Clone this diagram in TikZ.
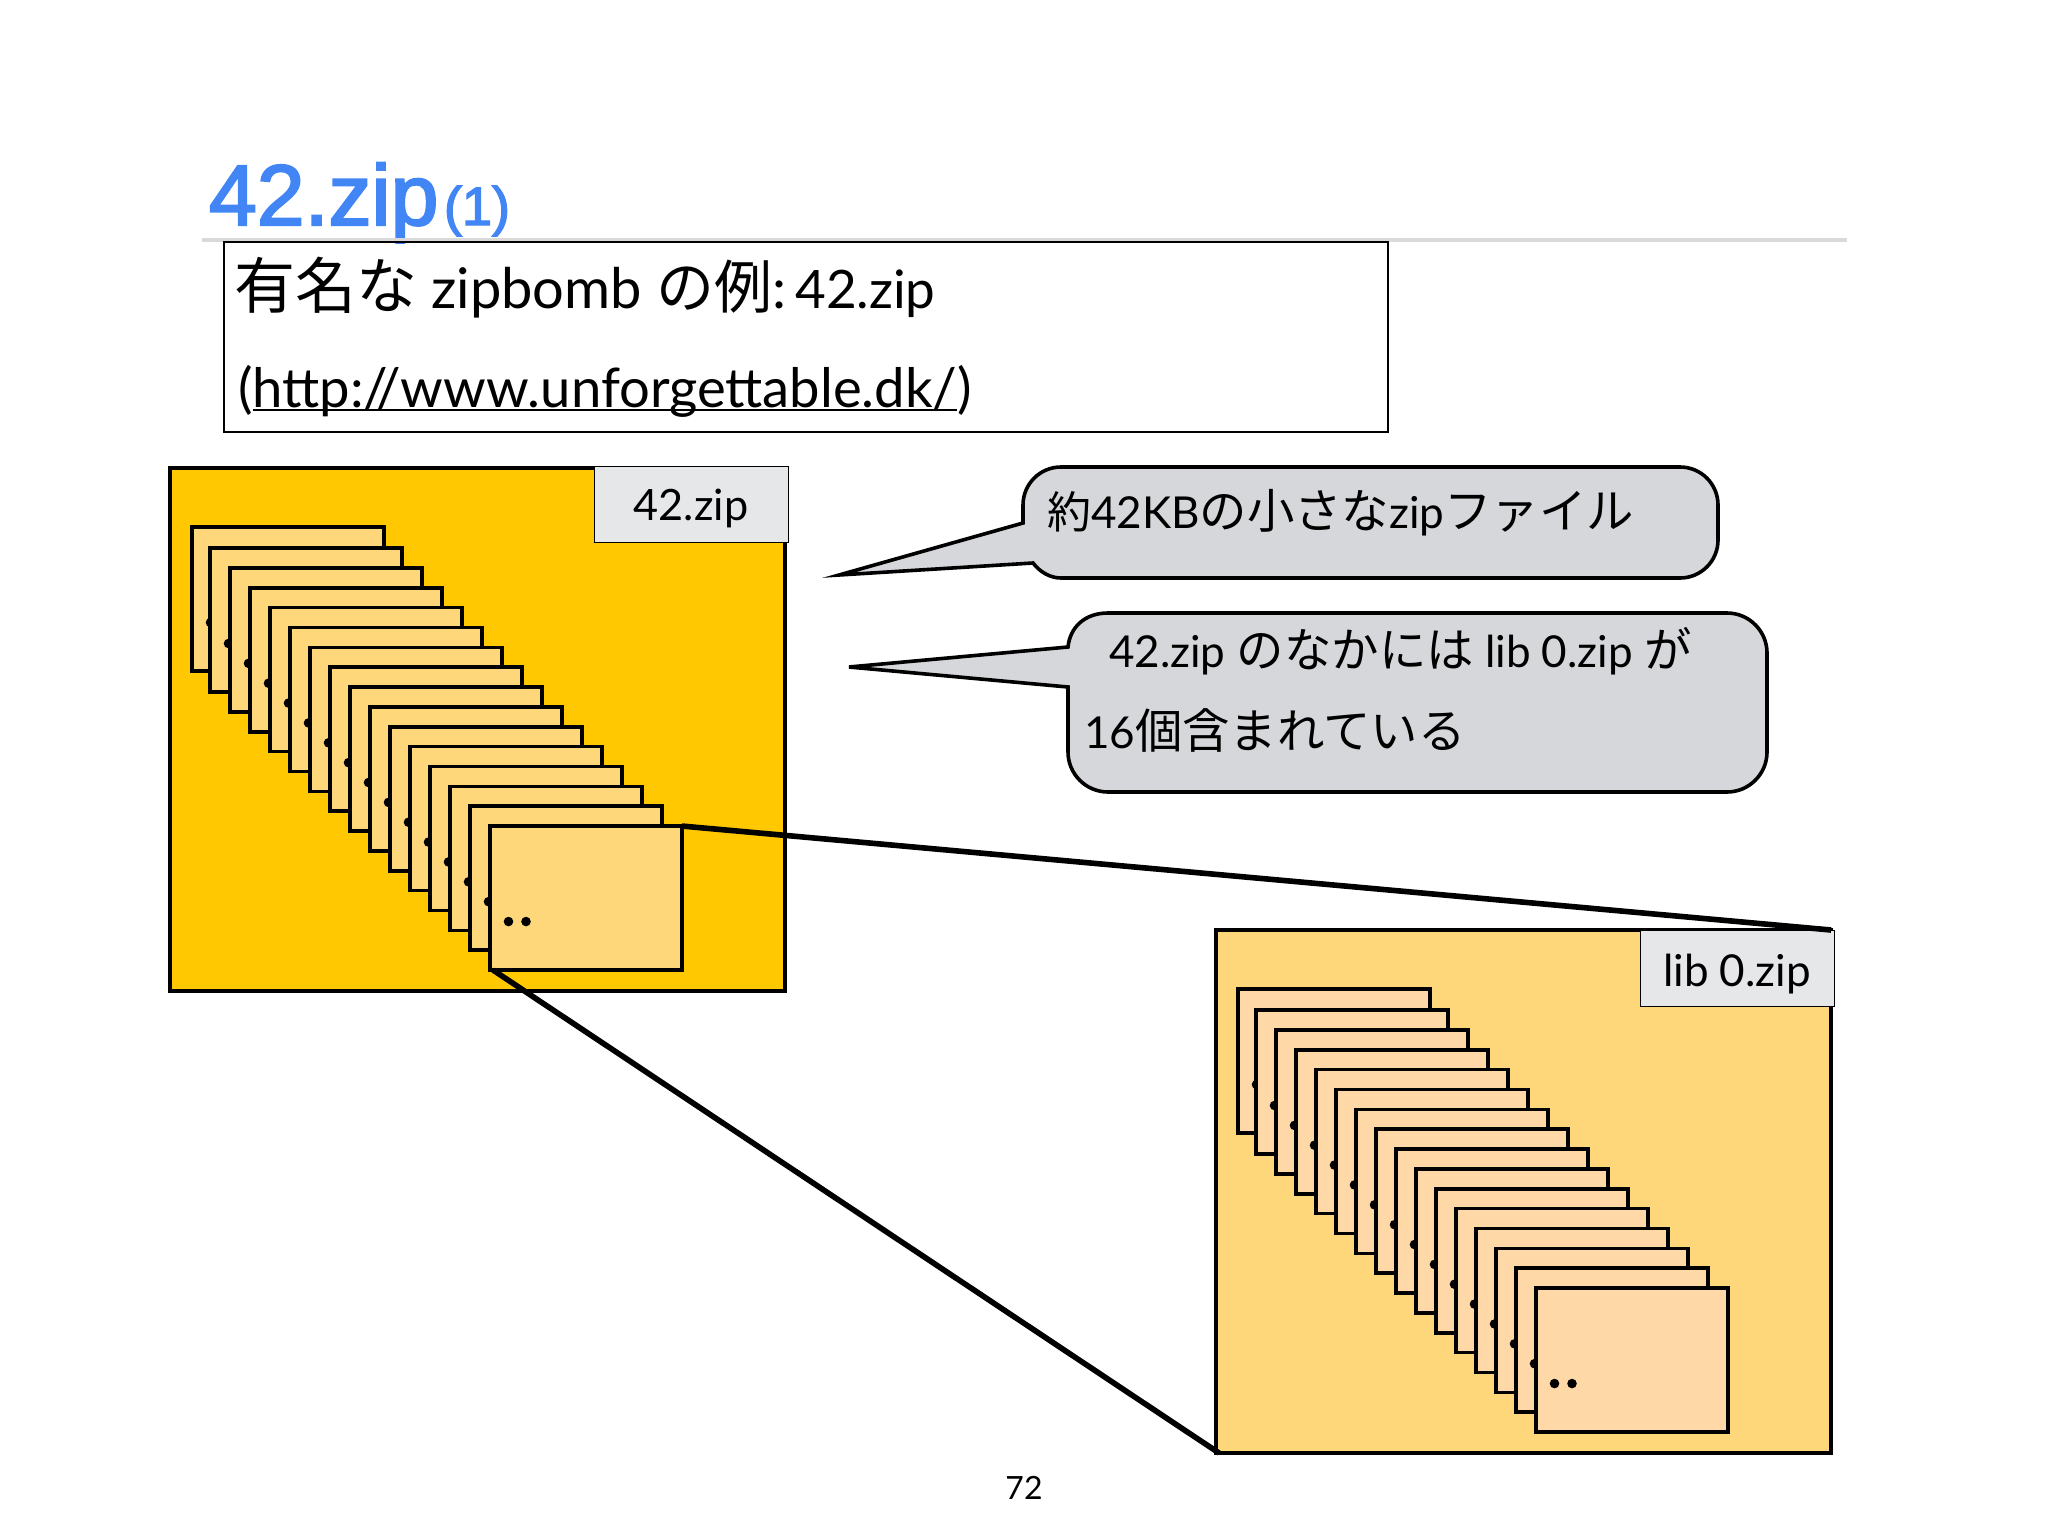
\documentclass[tikz,border=0pt]{standalone}
\usepackage{fontspec}
\setmainfont{Lato}
\newfontfamily\jpf{Noto Sans CJK JP}
\newfontfamily\helv[FakeBold=2.5]{Liberation Sans}
\newcommand{\jp}[2]{{\fontsize{#1}{#1}\jpf #2}}
\newcommand{\fs}[1]{\fontsize{#1}{#1}\selectfont}
\newcommand{\ulink}[1]{\setbox0\hbox{#1}\rlap{\rule[-2.2pt]{\wd0}{1.1pt}}\box0}
\definecolor{titleblue}{HTML}{4285F4}
\definecolor{gold}{HTML}{FFC800}
\definecolor{lightgold}{HTML}{FFD77B}
\definecolor{peach}{HTML}{FFD8A8}
\definecolor{labelgrey}{HTML}{E6E7E9}
\definecolor{bubble}{HTML}{D6D7DA}
\tikzset{
  x=0.5pt,y=-0.5pt,
  txt/.style={anchor=base west,inner sep=0pt,outer sep=0pt},
  ctxt/.style={anchor=base,inner sep=0pt,outer sep=0pt},
  bigbox/.style={draw=black,line width=2.2pt,anchor=north west,minimum width=615pt/2,minimum height=523pt/2,inner sep=0pt,outer sep=0pt},
  card/.style={draw=black,line width=1.8pt,anchor=north west,minimum width=96pt,minimum height=72pt,inner sep=0pt,outer sep=0pt},
  tag/.style={draw=black,line width=.5pt,fill=labelgrey,anchor=north west,minimum width=97pt,minimum height=38pt,inner sep=0pt,outer sep=0pt},
  callout/.style={draw=black,line width=1.8pt,fill=bubble,line join=miter},
  zoomline/.style={draw=black,line width=2.8pt},
  adot/.style={circle,fill=black,minimum size=4.8pt,inner sep=0pt,outer sep=0pt},
}
\begin{document}
\begin{tikzpicture}
\useasboundingbox (0,0) rectangle (2048,1536);
% title
\node[txt] (title) at (209,225) {\helv\fs{43}\color{titleblue}42.zip};
\node[txt] (titlen) at (444,225) {\helv\fs{27}\color{titleblue}(1)};
\coordinate (ruleL) at (202,240);
\coordinate (ruleR) at (1847,240);
\draw[draw=black!15,line width=1.6pt] (ruleL) -- (ruleR);
% text box
\node[draw=black,line width=.8pt,anchor=north west,minimum width=582pt,minimum height=95pt,inner sep=0pt,outer sep=0pt] (tbox) at (224,242) {};
\node[txt] (t1) at (234,308) {\fs{28}\jp{30.5}{有名な} zipbomb \jp{29}{の例}:\hspace{.16em}{\fs{26.5}42.zip}};
\node[txt] (t2) at (238,407) {\fs{27.2}(\ulink{http://www.unforgettable.dk/})};
% first box
\node[bigbox,fill=gold] (boxA) at (170,468) {};
\foreach \i in {0,...,15}{
  \pgfmathsetmacro{\cx}{\i==0 ? 192 : 210+20*(\i-1)}
  \pgfmathsetmacro{\cy}{\i==0 ? 527 : 548+19.86*(\i-1)}
  \node[card,fill=lightgold] (a\i) at (\cx,\cy) {};
  \node[adot] (ad\i) at (\cx+18.5,\cy+95.5) {};
  \node[adot] (ae\i) at (\cx+36,\cy+95.5) {};
}
\node[tag] (tagA) at (594,466) {};
\node[ctxt] (tagAt) at (691,520) {\fs{21.6}42.zip};
% second box
\node[bigbox,fill=lightgold] (boxB) at (1216,930) {};
\foreach \i in {0,...,15}{
  \pgfmathsetmacro{\cx}{\i==0 ? 1238 : 1256+20*(\i-1)}
  \pgfmathsetmacro{\cy}{\i==0 ? 989 : 1010+19.86*(\i-1)}
  \node[card,fill=peach] (b\i) at (\cx,\cy) {};
  \node[adot] (bd\i) at (\cx+18.5,\cy+95.5) {};
  \node[adot] (be\i) at (\cx+36,\cy+95.5) {};
}
\node[tag] (tagB) at (1640,930) {};
\node[ctxt] (tagBt) at (1737,986) {\fs{22}lib 0.zip};
% connectors
\draw[zoomline] (a15.north east) -- (boxB.north east);
\draw[zoomline] ([xshift=1.5pt]a15.south west) -- ([xshift=1.5pt]boxB.south west);
% callouts
\coordinate (tip1) at (839,575);
\coordinate (tip2) at (849,667);
\path[callout] (tip1) -- (1023,523) -- (1023,505)
  .. controls (1023,484) and (1040,467) .. (1061,467)
  -- (1680,467) .. controls (1701,467) and (1718,484) .. (1718,505)
  -- (1718,540) .. controls (1718,561) and (1701,578) .. (1680,578)
  -- (1061,578) .. controls (1050,578) and (1040,572) .. (1033,563) -- cycle;
\path[callout] (tip2) -- (1068,647) .. controls (1070,627) and (1085,613) .. (1108,613)
  -- (1727,613) .. controls (1749,613) and (1767,631) .. (1767,653)
  -- (1767,752) .. controls (1767,774) and (1749,792) .. (1727,792)
  -- (1108,792) .. controls (1086,792) and (1068,774) .. (1068,752) -- (1068,687) -- cycle;
\node[txt] (c1) at (1047,528) {\fs{22}\jp{22}{約}42KB\jp{23.7}{の小さな}zip\jp{23.7}{ファイル}};
\node[txt] (c2) at (1109,667) {\fs{22}42.zip \jp{23.7}{のなかには} lib 0.zip \jp{23.7}{が}};
\node[txt] (c3) at (1084,748) {\fs{22}16\jp{23.7}{個含まれている}};
% page number
\node[ctxt] (pg) at (1024,1499) {\fs{16}72};
\end{tikzpicture}
\end{document}
